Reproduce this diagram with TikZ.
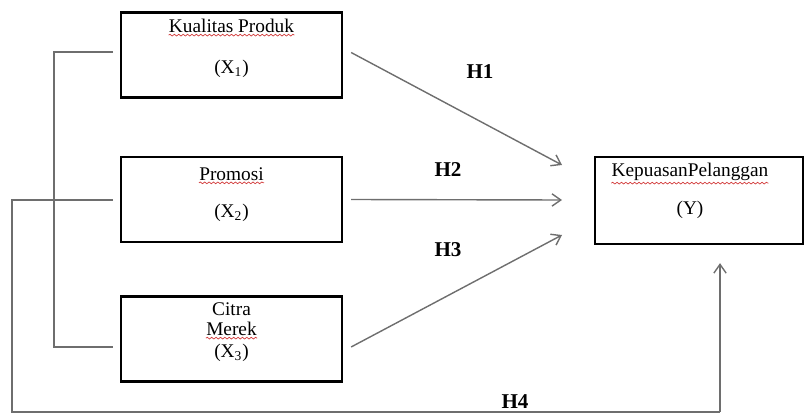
\documentclass[tikz,border=0pt]{standalone}
\usepackage{fontspec}
\setmainfont{Liberation Serif}
\usetikzlibrary{arrows.meta,positioning,calc,decorations.pathmorphing}
\definecolor{Line}{HTML}{6E6E6E}
\definecolor{Squig}{HTML}{D23A3A}

\begin{document}
\begin{tikzpicture}[
  x=0.02cm,y=-0.02cm,
  var/.style={draw=black,line width=1.3pt,minimum width=4.42cm,minimum height=1.7cm,inner sep=0pt},
  txt/.style={inner sep=0pt,font=\fontsize{11}{13}\selectfont},
  hyp/.style={inner sep=0pt,font=\fontsize{12}{14}\selectfont\bfseries},
  link/.style={draw=Line,line width=0.8pt},
  arr/.style={link,-{Straight Barb[length=5pt,width=7pt]}},
  squiggle/.style={draw=Squig,line width=0.4pt,decorate,decoration={snake,amplitude=0.5pt,segment length=2.5pt}}
]
  \path[use as bounding box] (0,0) rectangle (804,415);

  % variabel
  \node[var] (x1) at (231.5,55) {};
  \node[var] (x2) at (231.5,199.5) {};
  \node[var] (x3) at (231.5,339) {};
  \node[var,minimum width=4.16cm,minimum height=1.74cm] (y) at (699,200.5) {};

  \node[txt] (x1a) at (231.5,26) {Kualitas Produk};
  \node[txt] (x1b) at (231.5,69) {(X\textsubscript{1})};
  \node[txt] (x2a) at (231.5,174) {Promosi};
  \node[txt] (x2b) at (231.5,213) {(X\textsubscript{2})};
  \node[txt] (x3a) at (231.5,309) {Citra};
  \node[txt] (x3b) at (231.5,329) {Merek};
  \node[txt] (x3c) at (231.5,353) {(X\textsubscript{3})};
  \node[txt] (ya) at (690,172) {KepuasanPelanggan};
  \node[txt] (yb) at (690,210) {(Y)};

  % garis bawah ejaan
  \draw[squiggle] ($(x1a.south west)+(0,2)$) -- ($(x1a.south east)+(0,2)$);
  \draw[squiggle] ($(x2a.south west)+(0,2)$) -- ($(x2a.south east)+(0,2)$);
  \draw[squiggle] ($(x3b.south west)+(0,2)$) -- ($(x3b.south east)+(0,2)$);
  \draw[squiggle] ($(ya.south west)+(0,2)$) -- ($(ya.south east)+(0,2)$);

  % hipotesis
  \node[hyp] (h1) at (480,72) {H1};
  \node[hyp] (h2) at (448,170) {H2};
  \node[hyp] (h3) at (448,250) {H3};
  \node[hyp] (h4) at (515,402) {H4};

  % titik bantu
  \coordinate (p1) at (54,52);
  \coordinate (p3) at (54,347);
  \coordinate (q1) at (113,52);
  \coordinate (q3) at (113,347);
  \coordinate (q2) at (113,200);
  \coordinate (p2) at (12,200);
  \coordinate (p4) at (12,412);
  \coordinate (p5) at (720,412);
  \coordinate (t1) at (562,165);
  \coordinate (t2) at (562,200);
  \coordinate (t3) at (562,235);

  \draw[link] (q1) -- (p1) -- (p3) -- (q3);
  \draw[link] (q2) -- (p2) -- (p4) -- (p5);
  \draw[arr] (p5) -- ([yshift=-0.36cm]y.south -| p5);

  \draw[arr] ([xshift=0.16cm,yshift=0.05cm]x1.east) -- (t1);
  \draw[arr] ([xshift=0.16cm]x2.east) -- (t2);
  \draw[arr] ([xshift=0.16cm,yshift=-0.16cm]x3.east) -- (t3);
\end{tikzpicture}
\end{document}
